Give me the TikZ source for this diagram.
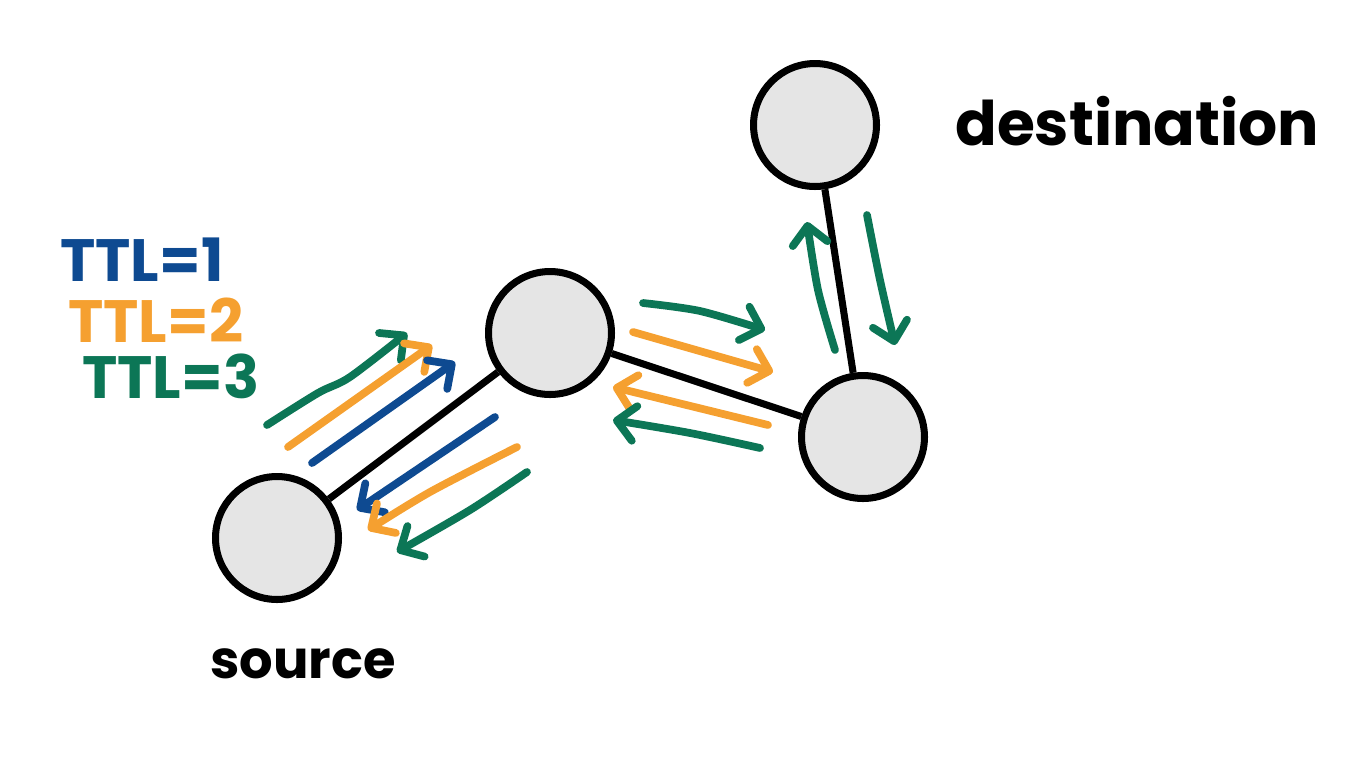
\documentclass[tikz,border=0pt]{standalone}
\usepackage{fontspec}
\setmainfont{Poppins}
\usetikzlibrary{arrows.meta}

\definecolor{ttlblue}{RGB}{14,74,145}
\definecolor{ttlorange}{RGB}{245,160,48}
\definecolor{ttlgreen}{RGB}{12,118,86}

\tikzset{
  router/.style = {circle, draw, line width = 4pt, fill = black!10,
                   minimum size = 2.46cm, inner sep = 0pt},
  link/.style = {line width = 4pt},
  packet/.style = {-{Straight Barb[round, length = 0.36cm, width = 0.7cm]},
                   line width = 4.4pt, line cap = round, line join = round},
  ttlone/.style = {packet, draw = ttlblue},
  ttltwo/.style = {packet, draw = ttlorange},
  ttlthree/.style = {packet, draw = ttlgreen},
  hand/.style = {font = \bfseries\fontsize{34}{40}\selectfont, inner sep = 0pt}
}

\begin{document}
\begin{tikzpicture}[x = 0.02cm, y = -0.02cm]
        \useasboundingbox (0, 0) rectangle (1352, 775);

        % routers
        \node[router] (src) at (277, 538) {};
        \node[router] (hop1) at (550, 333) {};
        \node[router] (hop2) at (863, 437) {};
        \node[router] (dst) at (815, 125) {};

        \draw[link] (src) -- (hop1);
        \draw[link] (hop1) -- (hop2);
        \draw[link] (hop2) -- (dst);

        % labels
        \node[hand, anchor = base west, font = \bfseries\fontsize{35}{42}\selectfont] (dstlabel) at (955, 145) {destination};
        \node[hand, anchor = base west, font = \bfseries\fontsize{30}{36}\selectfont] (srclabel) at (210, 678) {source};

        % legend
        \node[hand, anchor = base west, text = ttlblue] (leg1) at (60, 281) {TTL=1};
        \node[hand, anchor = base west, text = ttlorange] (leg2) at (68, 342) {TTL=2};
        \node[hand, anchor = base west, text = ttlgreen] (leg3) at (82, 398) {TTL=3};

        % src -> hop1
        \draw[ttlthree] plot[smooth] coordinates {(267, 425) (318, 393) (350, 377) (407, 333)};
        \draw[ttltwo] (288, 447) -- (432, 345);
        \draw[ttlone] (312, 463) -- (455, 362);

        % hop1 -> src
        \draw[ttlone] (495, 417) -- (357, 510);
        \draw[ttltwo] plot[smooth] coordinates {(517, 447) (430, 492) (368, 530)};
        \draw[ttlthree] plot[smooth] coordinates {(527, 472) (470, 510) (397, 552)};

        % hop1 <-> hop2
        \draw[ttlthree] plot[smooth] coordinates {(643, 303) (700, 311) (765, 330)};
        \draw[ttltwo] (633, 332) -- (773, 372);
        \draw[ttltwo] (768, 425) -- (613, 387);
        \draw[ttlthree] plot[smooth] coordinates {(760, 448) (690, 433) (613, 420)};

        % hop2 <-> dst
        \draw[ttlthree] plot[smooth] coordinates {(835, 350) (818, 290) (807, 222)};
        \draw[ttlthree] plot[smooth] coordinates {(867, 215) (880, 280) (895, 345)};
      \end{tikzpicture}
\end{document}
